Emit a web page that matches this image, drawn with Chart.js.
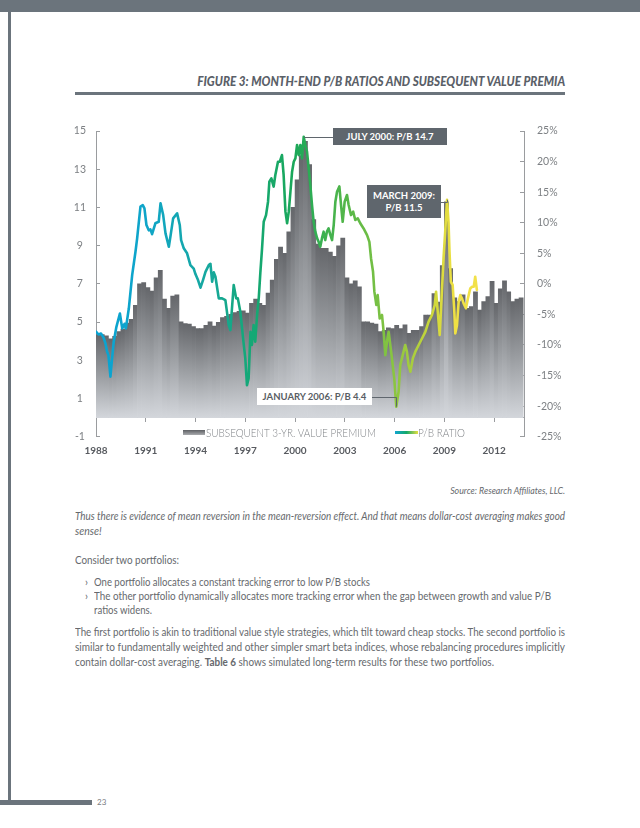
<!DOCTYPE html>
<html>
<head>
<meta charset="utf-8">
<script src="https://cdn.jsdelivr.net/npm/chart.js@4.4.1/dist/chart.umd.min.js"></script>
<style>
html, body { margin: 0; padding: 0; background: #fff; }
#page { position: relative; width: 640px; height: 828px; overflow: hidden; font-family: Lato, "Open Sans", sans-serif; color: #5e6165; }
.bar { position: absolute; background: #6b747c; }
.t { position: absolute; white-space: nowrap; line-height: 1; }
.fitL { transform-origin: left center; }
.fitR { transform-origin: right center; }
#title { right: 75px; top: 75px; font-size: 13px; font-weight: 900; font-style: italic; color: #5a6068; }
.body { font-size: 10.5px; font-weight: 400; color: #66696d; }
.body b { font-weight: 700; }
.it { font-style: italic; }
#chartWrap { position: absolute; left: 50px; top: 100px; width: 530px; height: 360px; }
.callout { position: absolute; display: flex; align-items: center; justify-content: center; text-align: center; font-family: Lato, sans-serif; font-weight: 700; font-size: 9.5px; line-height: 12px; }
.dark { background: #5f666d; color: #fff; }
.light { background: #fff; color: #595e64; }
.lg { position: absolute; font-size: 11px; font-weight: 300; color: #7f8286; white-space: nowrap; line-height: 1; }
</style>
</head>
<body>
<div id="page">
  <div class="bar" style="left:0;top:0;width:640px;height:12px;"></div>
  <div class="bar" style="left:8px;top:12px;width:3px;height:792px;"></div>
  <div class="bar" style="left:0;top:800px;width:92px;height:5px;"></div>
  <div class="t" style="left:97px;top:798px;font-size:8px;color:#7a7d81;">23</div>

  <div class="t fitR" id="title" data-w="368">FIGURE 3: MONTH-END P/B RATIOS AND SUBSEQUENT VALUE PREMIA</div>
  <div class="bar" style="left:75px;top:92px;width:490px;height:3px;"></div>

  <div id="chartWrap"><canvas id="chart" width="530" height="360"></canvas></div>

  <div class="callout dark" id="callout0" style="left:333px;top:128px;width:114px;height:17px;">JULY 2000: P/B 14.7</div>
  <div class="callout dark" id="callout1" style="left:367px;top:185px;width:74px;height:33px;">MARCH 2009:<br>P/B 11.5</div>
  <div class="callout light" id="callout2" style="left:257px;top:388px;width:115px;height:17px;">JANUARY 2006: P/B 4.4</div>

  <div style="position:absolute;left:183px;top:430px;width:22px;height:5px;background:linear-gradient(#5d5f63,#a9abae);"></div>
  <div class="lg fitL" data-w="170" style="left:206px;top:427px;">SUBSEQUENT 3-YR. VALUE PREMIUM</div>
  <div style="position:absolute;left:395px;top:431px;width:23px;height:3px;background:linear-gradient(90deg,#12a5cf,#14a86a 50%,#e6e040);"></div>
  <div class="lg fitL" data-w="47" style="left:418px;top:427px;">P/B RATIO</div>

  <div class="t body it fitR" data-w="115" style="right:75px;top:486px;font-size:9.5px;">Source: Research Affiliates, LLC.</div>
  <div class="t body it fitL" data-w="490" style="left:75px;top:511px;">Thus there is evidence of mean reversion in the mean-reversion effect. And that means dollar-cost averaging makes good</div>
  <div class="t body it" style="left:75px;top:526px;">sense!</div>
  <div class="t body fitL" data-w="104" style="left:75px;top:555px;">Consider two portfolios:</div>
  <div class="t body" style="left:85px;top:577px;">›</div>
  <div class="t body fitL" data-w="276" style="left:94px;top:577px;">One portfolio allocates a constant tracking error to low P/B stocks</div>
  <div class="t body" style="left:85px;top:591px;">›</div>
  <div class="t body fitL" data-w="457" style="left:94px;top:591px;">The other portfolio dynamically allocates more tracking error when the gap between growth and value P/B</div>
  <div class="t body fitL" data-w="58" style="left:94px;top:605px;">ratios widens.</div>
  <div class="t body fitL" data-w="490" style="left:75px;top:627px;">The first portfolio is akin to traditional value style strategies, which tilt toward cheap stocks. The second portfolio is</div>
  <div class="t body fitL" data-w="490" style="left:75px;top:642px;">similar to fundamentally weighted and other simpler smart beta indices, whose rebalancing procedures implicitly</div>
  <div class="t body fitL" data-w="419" style="left:75px;top:657px;">contain dollar-cost averaging. <b>Table 6</b> shows simulated long-term results for these two portfolios.</div>
</div>

<script>
// ---------- DATA ----------
const tickYears = [1988, 1991, 1994, 1997, 2000, 2003, 2006, 2009, 2012];

// Month-end P/B ratio (left axis)
const pbYears = [
  1988.00, 1988.15, 1988.30, 1988.45, 1988.57, 1988.67, 1988.75, 1988.87, 1988.97, 1989.07,
  1989.23, 1989.44, 1989.58, 1989.72, 1989.80, 1989.98, 1990.18, 1990.38, 1990.48, 1990.68,
  1990.82, 1990.92, 1991.04, 1991.18, 1991.28, 1991.38, 1991.58, 1991.78, 1991.89, 1992.05,
  1992.19, 1992.39, 1992.50, 1992.65, 1992.89, 1993.05, 1993.13, 1993.29, 1993.49, 1993.69,
  1993.89, 1994.00, 1994.15, 1994.30, 1994.45, 1994.60, 1994.80, 1994.90, 1995.00, 1995.10,
  1995.20, 1995.40, 1995.60, 1995.80, 1996.00, 1996.10, 1996.30, 1996.45, 1996.55, 1996.70,
  1996.90, 1997.00, 1997.10, 1997.20, 1997.31, 1997.40, 1997.50, 1997.60, 1997.71, 1997.81,
  1997.91, 1998.01, 1998.11, 1998.25, 1998.37, 1998.45, 1998.57, 1998.71, 1998.81, 1998.97,
  1999.08, 1999.21, 1999.31, 1999.42, 1999.52, 1999.62, 1999.72, 1999.82, 1999.92, 2000.02,
  2000.12, 2000.22, 2000.32, 2000.42, 2000.52, 2000.62, 2000.72, 2000.82, 2000.92, 2001.02,
  2001.12, 2001.22, 2001.33, 2001.42, 2001.52, 2001.62, 2001.72, 2001.82, 2001.92, 2002.02,
  2002.13, 2002.23, 2002.33, 2002.43, 2002.53, 2002.67, 2002.77, 2002.87, 2002.99, 2003.13,
  2003.23, 2003.37, 2003.50, 2003.63, 2003.78, 2003.93, 2004.13, 2004.34, 2004.48, 2004.58,
  2004.70, 2004.78, 2004.90, 2004.98, 2005.10, 2005.24, 2005.34, 2005.44, 2005.54, 2005.64,
  2005.84, 2005.98, 2006.10, 2006.24, 2006.34, 2006.44, 2006.54, 2006.64, 2006.74, 2006.84,
  2006.95, 2007.10, 2007.25, 2007.45, 2007.65, 2007.85, 2008.05, 2008.25, 2008.42, 2008.50,
  2008.60, 2008.72, 2008.82, 2008.95, 2009.05, 2009.16, 2009.25, 2009.31, 2009.39, 2009.50,
  2009.60, 2009.66, 2009.76, 2009.86, 2009.96, 2010.06, 2010.16, 2010.30, 2010.42, 2010.56,
  2010.67, 2010.77, 2010.86, 2010.96
];
const pbRatio = [
  4.50, 4.35, 4.40, 4.20, 3.88, 3.45, 3.27, 2.14, 3.10, 3.97,
  4.75, 5.45, 4.67, 4.90, 4.67, 5.72, 7.46, 8.68, 9.38, 11.04,
  11.12, 10.95, 10.08, 9.80, 9.85, 9.60, 10.17, 10.25, 11.21, 10.60,
  9.64, 8.94, 9.55, 10.43, 10.69, 10.08, 9.29, 8.86, 8.60, 7.98,
  7.80, 7.50, 7.20, 6.80, 7.20, 7.63, 7.98, 8.05, 7.11, 7.60,
  7.37, 6.24, 6.24, 6.15, 4.84, 4.58, 6.94, 6.24, 6.24, 5.54,
  3.88, 3.10, 1.70, 2.05, 4.49, 3.80, 4.84, 3.97, 5.37, 6.24,
  7.63, 8.86, 10.25, 10.60, 11.30, 12.35, 12.52, 12.09, 12.70, 13.39,
  13.39, 13.74, 12.70, 10.78, 10.17, 10.78, 11.82, 12.87, 13.39, 13.57,
  14.27, 13.74, 14.27, 13.57, 14.70, 14.27, 13.92, 13.05, 12.17, 11.13,
  10.25, 9.73, 9.38, 9.20, 8.94, 9.38, 9.73, 9.29, 9.73, 9.90,
  9.55, 9.29, 10.08, 11.30, 11.82, 12.10, 11.13, 10.25, 11.30, 11.65,
  11.13, 10.60, 10.78, 10.34, 10.43, 10.17, 9.90, 9.55, 9.20, 8.33,
  7.63, 6.59, 5.89, 6.41, 5.19, 5.37, 4.49, 3.27, 3.97, 4.49,
  3.10, 2.05, 0.57, 1.35, 2.75, 3.10, 3.45, 3.80, 3.45, 2.75,
  2.40, 3.10, 3.45, 3.80, 4.14, 4.49, 5.02, 5.37, 5.89, 6.59,
  5.54, 4.32, 6.06, 8.33, 9.73, 11.40, 10.25, 8.68, 7.11, 6.94,
  5.54, 4.41, 4.84, 6.06, 6.41, 6.24, 5.98, 5.72, 6.24, 6.76,
  6.85, 6.85, 7.37, 6.68
];

// Subsequent 3-yr value premium, % (right axis), quarterly
const premiumQuarters = [
  1988.125, 1988.375, 1988.625, 1988.875, 1989.125, 1989.375, 1989.625, 1989.875,
  1990.125, 1990.375, 1990.625, 1990.875, 1991.125, 1991.375, 1991.625, 1991.875,
  1992.125, 1992.375, 1992.625, 1992.875, 1993.125, 1993.375, 1993.625, 1993.875,
  1994.125, 1994.375, 1994.625, 1994.875, 1995.125, 1995.375, 1995.625, 1995.875,
  1996.125, 1996.375, 1996.625, 1996.875, 1997.125, 1997.375, 1997.625, 1997.875,
  1998.125, 1998.375, 1998.625, 1998.875, 1999.125, 1999.375, 1999.625, 1999.875,
  2000.125, 2000.375, 2000.625, 2000.875, 2001.125, 2001.375, 2001.625, 2001.875,
  2002.125, 2002.375, 2002.625, 2002.875, 2003.125, 2003.375, 2003.625, 2003.875,
  2004.125, 2004.375, 2004.625, 2004.875, 2005.125, 2005.375, 2005.625, 2005.875,
  2006.125, 2006.375, 2006.625, 2006.875, 2007.125, 2007.375, 2007.625, 2007.875,
  2008.125, 2008.375, 2008.625, 2008.875, 2009.125, 2009.375, 2009.625, 2009.875,
  2010.125, 2010.375, 2010.625, 2010.875, 2011.125, 2011.375, 2011.625, 2011.875,
  2012.125, 2012.375, 2012.625, 2012.875, 2013.125, 2013.375, 2013.625
];
const premiumValues = [
  -8.3, -8.3, -8.5, -9.0, -8.6, -7.8, -7.4, -6.4,
  -5.8, -3.5,  0.0,  0.2, -0.6, -1.2,  1.0,  2.2,
  -2.5, -4.0, -2.0, -1.8, -6.2, -6.5, -6.6, -7.0,
  -7.3, -7.3, -6.8, -6.2, -6.9, -6.3, -5.5, -5.3,
  -5.0, -4.7, -4.5, -4.4, -4.8, -3.2, -2.5, -3.2,
  -3.5, -1.5,  0.6,  4.0,  6.0,  5.0,  8.5, 12.5,
  17.0, 21.0, 23.3, 19.5, 10.5,  6.5,  5.8,  5.8,
   5.2,  4.5,  6.2,  7.5,  1.0,  0.0,  0.5, -0.5,
  -6.2, -6.2, -6.4, -6.6, -7.8, -7.6, -7.2, -7.3,
  -6.8, -7.3, -6.7, -8.1, -7.6, -7.6, -7.0, -5.1,
  -5.1, -1.6, -3.0,  3.0, 13.4,  2.5, -2.3, -2.9,
  -1.8, -4.0, -3.7, -1.3, -4.3, -2.9, -2.1,  0.4,
  -3.2, -0.8,  0.5, -1.3, -2.9, -2.5, -2.3
];

// Callouts: date of the annotated observation, and whether it is a peak or trough
const calloutDates = [2000.5, 2009.2, 2006.0];
const calloutKinds = ['max', 'max', 'min'];

// ---------- text fitting ----------
function fitText() {
  document.querySelectorAll('[data-w]').forEach(el => {
    el.style.transform = 'none';
    const w = el.getBoundingClientRect().width;
    const target = parseFloat(el.dataset.w);
    if (w > 0) el.style.transform = 'scaleX(' + (target / w).toFixed(4) + ')';
  });
}
fitText();

// ---------- chart ----------
const LEFT_MIN = -1, LEFT_MAX = 15, RIGHT_MIN = -25, RIGHT_MAX = 25;
// bars rise from the horizontal axis line drawn at P/B = 0
const premiumBase = RIGHT_MIN + (RIGHT_MAX - RIGHT_MIN) * (0 - LEFT_MIN) / (LEFT_MAX - LEFT_MIN);

function barGradient(ctx) {
  const chart = ctx.chart;
  if (!chart.chartArea || ctx.type !== 'data') return '#8d8f93';
  const s = chart.scales.y2;
  const top = s.getPixelForValue(ctx.parsed.y);
  const bottom = s.getPixelForValue(premiumBase);
  if (!isFinite(top) || !isFinite(bottom) || Math.abs(bottom - top) < 1) return '#8d8f93';
  const g = chart.ctx.createLinearGradient(0, top, 0, bottom);
  g.addColorStop(0, '#65676b');
  g.addColorStop(0.5, '#9b9ea2');
  g.addColorStop(1, '#d3d6db');
  return g;
}

function lineGradient(ctx) {
  const chart = ctx.chart;
  if (!chart.chartArea) return '#14a8a0';
  const x = chart.scales.x;
  const x0 = x.getPixelForValue(pbYears[0]);
  const x1 = x.getPixelForValue(pbYears[pbYears.length - 1]);
  const g = chart.ctx.createLinearGradient(x0, 0, x1, 0);
  g.addColorStop(0.00, '#0aa3d2');
  g.addColorStop(0.13, '#0fa5c9');
  g.addColorStop(0.29, '#17a89f');
  g.addColorStop(0.40, '#14a878');
  g.addColorStop(0.52, '#1ba85a');
  g.addColorStop(0.65, '#52b64a');
  g.addColorStop(0.79, '#8dc640');
  g.addColorStop(0.88, '#cbd73a');
  g.addColorStop(0.94, '#eee043');
  g.addColorStop(1.00, '#f2e14a');
  return g;
}

const connectorPlugin = {
  id: 'connectors',
  afterDatasetsDraw(chart) {
    const { ctx } = chart;
    const xs = chart.scales.x, ys = chart.scales.y;
    const cRect = chart.canvas.getBoundingClientRect();
    calloutDates.forEach((d, i) => {
      let k = -1;
      pbYears.forEach((yr, j) => {
        if (Math.abs(yr - d) > 0.3) return;
        if (k < 0) { k = j; return; }
        if (calloutKinds[i] === 'max' ? pbRatio[j] > pbRatio[k] : pbRatio[j] < pbRatio[k]) k = j;
      });
      if (k < 0) return;
      const px = xs.getPixelForValue(pbYears[k]);
      const py = ys.getPixelForValue(pbRatio[k]);
      const el = document.getElementById('callout' + i);
      const r = el.getBoundingClientRect();
      const left = r.left - cRect.left, right = r.right - cRect.left;
      const by = r.top + r.height / 2 - cRect.top;
      const bx = left > px ? left : right;
      ctx.save();
      ctx.strokeStyle = '#5f666d';
      ctx.lineWidth = 1;
      ctx.beginPath();
      ctx.moveTo(bx, Math.round(by) + 0.5);
      ctx.lineTo(Math.round(px) + 0.5, Math.round(by) + 0.5);
      ctx.lineTo(Math.round(px) + 0.5, py);
      ctx.stroke();
      ctx.restore();
    });
  }
};

const tickFont = { family: 'Lato, "Open Sans", sans-serif', size: 10.5 };

const chart = new Chart(document.getElementById('chart'), {
  type: 'bar',
  data: {
    datasets: [
      {
        type: 'line',
        label: 'P/B RATIO',
        data: pbYears.map((x, i) => ({ x, y: pbRatio[i] })),
        xAxisID: 'x',
        yAxisID: 'y',
        borderColor: lineGradient,
        borderWidth: 2.6,
        borderJoinStyle: 'round',
        borderCapStyle: 'round',
        pointRadius: 0,
        tension: 0,
        fill: false,
        order: 0
      },
      {
        type: 'bar',
        label: 'SUBSEQUENT 3-YR. VALUE PREMIUM',
        data: premiumQuarters.map((x, i) => ({ x, y: premiumValues[i] })),
        xAxisID: 'x',
        yAxisID: 'y2',
        base: premiumBase,
        backgroundColor: barGradient,
        borderWidth: 0,
        barPercentage: 1,
        categoryPercentage: 1,
        order: 1
      }
    ]
  },
  options: {
    responsive: false,
    devicePixelRatio: 1,
    animation: false,
    events: [],
    layout: { padding: { top: 31, left: 0, right: 0, bottom: 0 } },
    plugins: { legend: { display: false }, tooltip: { enabled: false } },
    scales: {
      x: {
        type: 'linear',
        position: { y: 0 },
        min: 1988,
        max: 2013.8,
        offset: false,
        afterBuildTicks: s => { s.ticks = tickYears.map(v => ({ value: v })); },
        afterFit: s => { s.height = 28; },
        grid: { display: true, drawOnChartArea: false, drawTicks: true, tickLength: 4, color: '#9a9c9f', offset: false },
        border: { display: true, color: '#8e9195', width: 1 },
        ticks: {
          font: { family: 'Lato, "Open Sans", sans-serif', size: 10, weight: 'bold' },
          color: '#585b60',
          padding: 23,
          maxRotation: 0,
          autoSkip: false,
          callback: v => String(v)
        }
      },
      y: {
        type: 'linear',
        position: 'left',
        min: LEFT_MIN,
        max: LEFT_MAX,
        afterFit: s => { s.width = 46; },
        grid: { drawOnChartArea: false, drawTicks: true, tickLength: -4, color: '#9a9c9f' },
        border: { display: true, color: '#9a9c9f', width: 1 },
        ticks: { stepSize: 2, font: tickFont, color: '#7d8084', padding: 14, crossAlign: 'center' }
      },
      y2: {
        type: 'linear',
        position: 'right',
        min: RIGHT_MIN,
        max: RIGHT_MAX,
        afterFit: s => { s.width = 56; },
        grid: { drawOnChartArea: false, drawTicks: true, tickLength: -4, color: '#9a9c9f' },
        border: { display: true, color: '#9a9c9f', width: 1 },
        ticks: { stepSize: 5, font: tickFont, color: '#7d8084', padding: 17, callback: v => v + '%' }
      }
    }
  },
  plugins: [connectorPlugin]
});

if (document.fonts && document.fonts.ready) document.fonts.ready.then(() => { fitText(); chart.update('none'); });
</script>
</body>
</html>
